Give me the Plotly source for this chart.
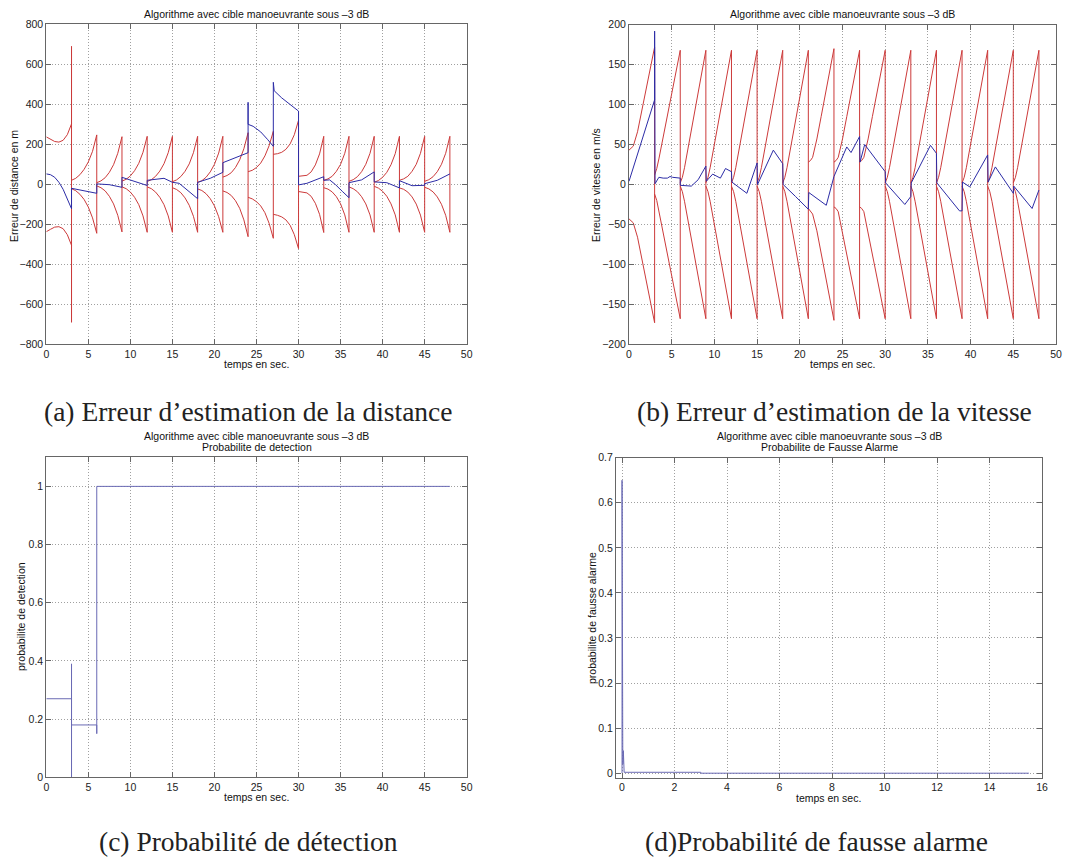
import plotly.graph_objects as go

# ---------------- data ----------------
SEG_STARTS = [0, 3, 6, 9, 12, 15, 18, 21, 24, 27, 30, 33, 36, 39, 42, 45]

# (a) distance error: envelope samples at offsets within each 3 s segment
DIST_OFFSETS = [0, 0.5, 1.0, 1.5, 2.0, 2.5, 3.0]
DIST_UPPER = [
    [237, 226, 214, 211, 220, 248, 302],
    [20, 30, 48, 75, 112, 165, 247],
    [8, 17, 33, 60, 98, 155, 238],
    [16, 25, 42, 68, 105, 160, 240],
    [14, 23, 40, 66, 103, 158, 240],
    [13, 22, 39, 65, 102, 158, 240],
    [9, 18, 35, 62, 100, 156, 240],
    [36, 44, 58, 84, 122, 178, 258],
    [63, 70, 84, 106, 142, 193, 265],
    [150, 153, 160, 175, 202, 248, 320],
    [40, 41, 45, 62, 97, 152, 240],
    [20, 27, 40, 65, 100, 155, 240],
    [15, 23, 38, 63, 100, 155, 240],
    [10, 19, 35, 60, 98, 153, 240],
    [20, 27, 40, 65, 100, 155, 240],
    [15, 23, 38, 63, 100, 155, 240],
]
DIST_LOWER = [
    [-237, -225, -214, -212, -222, -252, -305],
    [-22, -32, -50, -76, -114, -168, -245],
    [-8, -17, -33, -60, -98, -155, -238],
    [-13, -22, -39, -65, -102, -158, -240],
    [-13, -22, -39, -65, -102, -158, -240],
    [-17, -26, -42, -68, -105, -160, -240],
    [-23, -31, -47, -72, -108, -162, -240],
    [-33, -41, -56, -82, -120, -178, -262],
    [-65, -73, -87, -108, -142, -195, -270],
    [-150, -155, -163, -178, -205, -252, -322],
    [-36, -38, -43, -60, -95, -150, -241],
    [-17, -24, -38, -62, -98, -153, -240],
    [-13, -22, -37, -62, -98, -153, -240],
    [-10, -19, -35, -60, -98, -153, -240],
    [-18, -25, -39, -63, -99, -154, -240],
    [-15, -23, -38, -63, -100, -155, -240],
]
DIST_SPIKES = {0: [690, -690]}

DIST_EST_T = [0, 0.5, 1.0, 1.5, 2.0, 2.5, 3.0, 3.0, 6.0, 6.0, 7.5, 9.0, 9.0, 12.0,
              12.0, 14.0, 15.0, 15.0, 15.8, 17.0, 18.0, 18.0, 19.5, 21.0, 21.0, 24.0,
              24.0, 24.0, 24.6, 25.5, 26.3, 27.0, 27.0, 27.1, 28.0, 29.0, 30.0,
              30.0, 31.0, 33.0, 33.0, 33.7, 34.4, 35.2, 36.0, 36.0, 37.5, 39.0,
              39.0, 40.5, 42.0, 42.0, 43.5, 45.0, 45.0, 46.5, 48.0]
DIST_EST_V = [52, 48, 35, 10, -25, -70, -122, -20, -45, 2, -2, -15, 35, -6,
              20, 30, 10, 10, 5, -35, -72, 10, 30, 60, 108, 158,
              410, 300, 290, 262, 225, 190, 510, 468, 432, 398, 366,
              -3, 5, 38, 20, 22, -2, -35, -67, 8, 22, 62,
              12, 8, -18, 18, -7, -5, 3, 20, 52]

# (b) velocity error
VEL_OFFSETS = [0, 0.25, 0.5, 1.0, 1.5, 2.0, 2.5, 3.0]
VEL_UPPER = [
    [43, 45, 48, 66, 93, 119, 146, 172],
    [12, 20, 32, 59, 86, 113, 141, 168],
    [2, 9, 21, 50, 79, 108, 138, 168],
    [2, 9, 21, 50, 79, 108, 138, 168],
    [2, 9, 21, 50, 79, 108, 138, 168],
    [2, 9, 21, 50, 79, 108, 138, 168],
    [2, 9, 21, 50, 79, 108, 138, 168],
    [28, 30, 34, 57, 85, 113, 142, 170],
    [28, 30, 34, 57, 85, 113, 141, 168],
    [28, 30, 34, 57, 85, 113, 141, 168],
    [2, 9, 21, 50, 79, 108, 138, 168],
    [2, 9, 21, 50, 79, 108, 138, 168],
    [2, 9, 21, 50, 79, 108, 138, 168],
    [2, 9, 21, 50, 79, 108, 138, 168],
    [2, 9, 21, 50, 79, 108, 138, 168],
    [2, 9, 21, 50, 79, 108, 138, 168],
]
VEL_LOWER = [
    [-43, -45, -48, -66, -93, -119, -146, -173],
    [-12, -20, -32, -59, -86, -113, -141, -168],
    [-2, -9, -21, -50, -79, -108, -138, -168],
    [-2, -9, -21, -50, -79, -108, -138, -168],
    [-2, -9, -21, -50, -79, -108, -138, -168],
    [-2, -9, -21, -50, -79, -108, -138, -168],
    [-2, -9, -21, -50, -79, -108, -138, -168],
    [-30, -33, -37, -58, -86, -114, -142, -170],
    [-28, -30, -34, -57, -85, -113, -141, -168],
    [-28, -30, -34, -57, -85, -113, -141, -168],
    [-2, -9, -21, -50, -79, -108, -138, -168],
    [-2, -9, -21, -50, -79, -108, -138, -168],
    [-2, -9, -21, -50, -79, -108, -138, -168],
    [-2, -9, -21, -50, -79, -108, -138, -168],
    [-2, -9, -21, -50, -79, -108, -138, -168],
    [-2, -9, -21, -50, -79, -108, -138, -168],
]

VEL_EST_T = [0, 1.5, 3.0, 3.0, 3.05, 3.5, 4.0, 4.5, 4.8, 5.1, 6.0,
             6.0, 7.3, 8.1, 9.0, 9.05, 9.8, 10.7, 11.3, 12.0,
             12.05, 13.8, 15.0, 15.05, 16.9, 18.0, 18.05, 19.5, 21.0,
             21.05, 23.1, 24.0, 25.5, 26.0, 27.0, 27.05, 27.6, 30.0,
             30.05, 32.3, 33.0, 33.05, 35.3, 36.0, 36.05, 38.7, 39.0,
             39.05, 39.9, 42.0, 42.05, 42.9, 45.0, 45.05, 47.2, 48.0]
VEL_EST_V = [4, 55, 106, 192, 1, 9, 8, 8, 10, 9, 8,
             -1, -2, 6, 23, 4, 13, 8, 20, 16,
             3, -11, 27, 0, 43, 26, 0, -15, -31,
             -10, -26, 10, 47, 40, 60, 28, 50, 16,
             2, -25, -15, 2, 49, 39, 2, -33, -33,
             3, -3, 37, 3, 22, -11, -2, -30, -7]

# (c) detection probability
PD_T = [0, 3, 3, 3, 3, 6, 6, 6, 48]
PD_V = [0.27, 0.27, 0, 0.39, 0.18, 0.18, 0.15, 1.0, 1.0]

# (d) false alarm probability
PFA_T = [0, 0, 0.03, 0.05, 0.08, 3.0, 3.0, 15.5]
PFA_V = [0, 0.65, 0.02, 0.05, 0.002, 0.002, 0, 0]

TITLE = "Algorithme avec cible manoeuvrante sous –3 dB"

RED = "#cc3a3a"
BLUE = "#2c2ca6"
PBLUE = "#6a6ab4"


def envelope(offsets, upper, lower, spikes):
    xs, ys = [], []
    for i, s in enumerate(SEG_STARTS):
        tt = [s + o for o in offsets]
        xs += tt
        ys += upper[i]
        if i in spikes:
            xs += [tt[-1]] * len(spikes[i])
            ys += spikes[i]
        xs += tt[::-1]
        ys += lower[i][::-1]
        xs.append(None)
        ys.append(None)
    return xs, ys


ex, ey = envelope(DIST_OFFSETS, DIST_UPPER, DIST_LOWER, DIST_SPIKES)
vx, vy = envelope(VEL_OFFSETS, VEL_UPPER, VEL_LOWER, {})

fig = go.Figure()
fig.add_trace(go.Scatter(x=ex, y=ey, mode="lines", line=dict(color=RED, width=1),
                         xaxis="x", yaxis="y", connectgaps=False))
fig.add_trace(go.Scatter(x=DIST_EST_T, y=DIST_EST_V, mode="lines",
                         line=dict(color=BLUE, width=1), xaxis="x", yaxis="y"))
fig.add_trace(go.Scatter(x=vx, y=vy, mode="lines", line=dict(color=RED, width=1),
                         xaxis="x2", yaxis="y2", connectgaps=False))
fig.add_trace(go.Scatter(x=VEL_EST_T, y=VEL_EST_V, mode="lines",
                         line=dict(color=BLUE, width=1), xaxis="x2", yaxis="y2"))
fig.add_trace(go.Scatter(x=PD_T, y=PD_V, mode="lines",
                         line=dict(color=PBLUE, width=1), xaxis="x3", yaxis="y3"))
fig.add_trace(go.Scatter(x=PFA_T, y=PFA_V, mode="lines",
                         line=dict(color=PBLUE, width=1), xaxis="x4", yaxis="y4"))

# the page body has an 8 px margin; the figure fills the rest of the window
OFF = 8
W, H = 1072 - OFF, 858 - OFF


def px(x):
    return (x - OFF) / W


def py(y):
    return 1 - (y - OFF) / H


tickfont = dict(family="Liberation Sans, Arial, sans-serif", size=10.5, color="#222")
base = dict(showline=True, mirror="ticks", linecolor="#666", linewidth=1,
            ticks="inside", ticklen=5, tickcolor="#666", showgrid=True,
            gridcolor="#a0a0a0", griddash="1px,2px", gridwidth=1, zeroline=False,
            tickfont=tickfont, fixedrange=True, automargin=False)

layout = dict(
    width=W, height=H, margin=dict(l=0, r=0, t=0, b=0, autoexpand=False),
    paper_bgcolor="white", plot_bgcolor="white", showlegend=False,
    xaxis=dict(base, domain=[px(46.3), px(466.7)], range=[0, 50], dtick=5, anchor="y"),
    yaxis=dict(base, domain=[py(344.3), py(24.3)], range=[-800, 800], dtick=200, anchor="x"),
    xaxis2=dict(base, domain=[px(629), px(1056)], range=[0, 50], dtick=5, anchor="y2"),
    yaxis2=dict(base, domain=[py(344.3), py(24.7)], range=[-200, 200], dtick=50, anchor="x2"),
    xaxis3=dict(base, domain=[px(46.3), px(466.7)], range=[0, 50], dtick=5, anchor="y3"),
    yaxis3=dict(base, domain=[py(777.3), py(457.3)], range=[0, 1.1],
                tickvals=[0, 0.2, 0.4, 0.6, 0.8, 1], ticktext=["0", "0.2", "0.4", "0.6", "0.8", "1"],
                anchor="x3"),
    xaxis4=dict(base, domain=[px(616), px(1042)], range=[-0.23, 16], dtick=2, anchor="y4"),
    yaxis4=dict(base, domain=[py(777.7), py(457.7)], range=[-0.01, 0.7], dtick=0.1, anchor="x4"),
)
fig.update_layout(**layout)

sans = dict(family="Liberation Sans, Arial, sans-serif", size=10.5, color="#111")
serif = dict(family="Liberation Serif, Times New Roman, serif", size=27.5, color="#222")

ann = []


def text(x, y, s, font, angle=0):
    ann.append(dict(x=px(x), y=py(y), xref="paper", yref="paper", text=s,
                    showarrow=False, font=font, textangle=angle,
                    xanchor="center", yanchor="middle", borderpad=0))


# titles
text(256.5, 14, TITLE, sans)
text(842.5, 14, TITLE, sans)
text(256.5, 436, TITLE, sans)
text(256.5, 447, "Probabilite de detection", sans)
text(829, 436, TITLE, sans)
text(829, 447, "Probabilite de Fausse Alarme", sans)
# x labels
text(256.5, 364, "temps en sec.", sans)
text(842, 364, "temps en sec.", sans)
text(256.5, 797, "temps en sec.", sans)
text(828, 798, "temps en sec.", sans)
# y labels
text(14, 186, "Erreur de distance en m", sans, -90)
text(596, 185, "Erreur de vitesse en m/s", sans, -90)
text(21, 617, "probabilite de detection", sans, -90)
text(592, 618, "probabilite de fausse alarme", sans, -90)
# captions
text(248, 411, "(a) Erreur d’estimation de la distance", serif)
text(834, 411, "(b) Erreur d’estimation de la vitesse", serif)
text(248, 841, "(c) Probabilité de détection", serif)
text(816, 841, "(d)Probabilité de fausse alarme", serif)

fig.update_layout(annotations=ann)
fig.write_html("out.html")
